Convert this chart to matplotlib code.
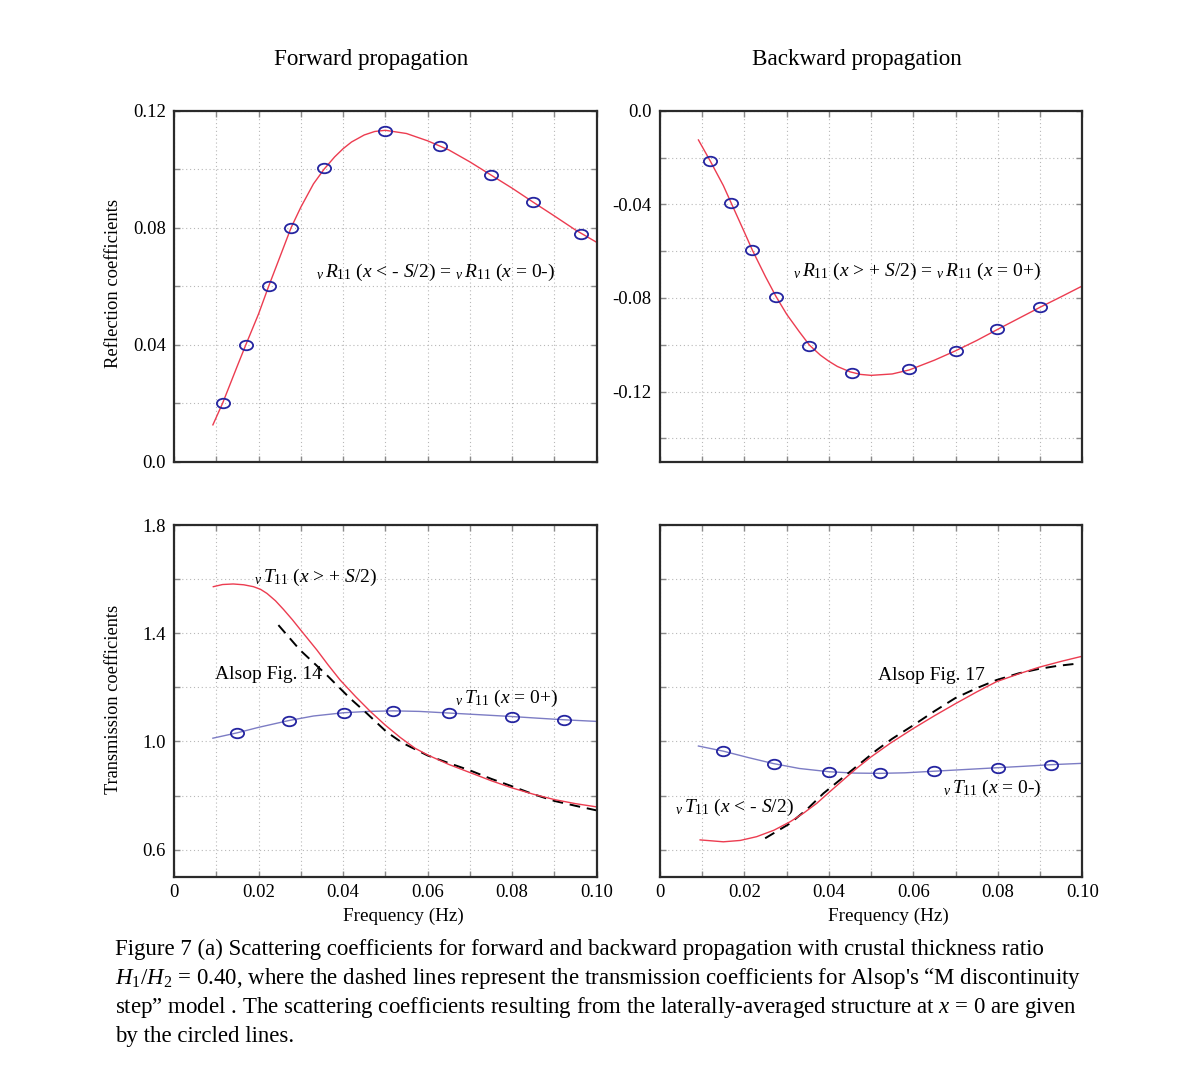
import matplotlib
matplotlib.use('Agg')
import matplotlib.pyplot as plt
from matplotlib.markers import MarkerStyle
from matplotlib.transforms import Affine2D
from matplotlib.ticker import MultipleLocator, FixedLocator, FixedFormatter

plt.rcParams['font.family'] = ['Liberation Serif', 'DejaVu Serif']
plt.rcParams['mathtext.fontset'] = 'custom'
plt.rcParams['mathtext.rm'] = 'Liberation Serif'
plt.rcParams['mathtext.it'] = 'Liberation Serif:italic'
plt.rcParams['mathtext.bf'] = 'Liberation Serif:bold'

# ---- forward, reflection
fwd_R_f = [0.0092, 0.0115, 0.0150, 0.0170, 0.0200, 0.0224, 0.0250, 0.0277, 0.0300, 0.0330,
           0.0355, 0.0380, 0.0400, 0.0420, 0.0450, 0.0475, 0.0500, 0.0550, 0.0600, 0.0650,
           0.0700, 0.0750, 0.0800, 0.0850, 0.0900, 0.0950, 0.1000]
fwd_R = [0.0126, 0.0200, 0.0328, 0.0400, 0.0505, 0.0600, 0.0698, 0.0800, 0.0870, 0.0950,
         0.1000, 0.1042, 0.1070, 0.1093, 0.1117, 0.1129, 0.1133, 0.1122, 0.1097, 0.1066,
         0.1025, 0.0980, 0.0935, 0.0887, 0.0840, 0.0792, 0.0750]
fwd_R_mk_f = [0.0115, 0.0170, 0.0224, 0.0277, 0.0355, 0.0499, 0.0629, 0.0749, 0.0849, 0.0964]
fwd_R_mk = [0.0200, 0.0400, 0.0600, 0.0800, 0.1003, 0.1131, 0.1080, 0.0981, 0.0887, 0.0779]

# ---- backward, reflection
bwd_R_f = [0.0091, 0.0119, 0.0150, 0.0169, 0.0200, 0.0219, 0.0250, 0.0275, 0.0300, 0.0330,
           0.0354, 0.0380, 0.0400, 0.0420, 0.0450, 0.0475, 0.0500, 0.0550, 0.0590, 0.0650,
           0.0700, 0.0750, 0.0800, 0.0850, 0.0900, 0.0950, 0.1000]
bwd_R = [-0.0125, -0.0215, -0.0320, -0.0396, -0.0520, -0.0597, -0.0710, -0.0795, -0.0870, -0.0945,
         -0.1002, -0.1045, -0.1071, -0.1093, -0.1116, -0.1127, -0.1131, -0.1125, -0.1108, -0.1066,
         -0.1026, -0.0982, -0.0934, -0.0887, -0.0840, -0.0795, -0.0749]
bwd_R_mk_f = [0.0119, 0.0169, 0.0219, 0.0275, 0.0354, 0.0455, 0.0590, 0.0700, 0.0799, 0.0900]
bwd_R_mk = [-0.0215, -0.0396, -0.0597, -0.0795, -0.1004, -0.1121, -0.1105, -0.1026, -0.0934, -0.0840]

# ---- forward, transmission
fwd_T_f = [0.0093, 0.0115, 0.0140, 0.0165, 0.0188, 0.0205, 0.0220, 0.0240, 0.0259, 0.0280,
           0.0298, 0.0338, 0.0365, 0.0393, 0.0430, 0.0465, 0.0500, 0.0535, 0.0570, 0.0600,
           0.0650, 0.0700, 0.0750, 0.0800, 0.0850, 0.0900, 0.0950, 0.1000]
fwd_T = [1.572, 1.580, 1.582, 1.579, 1.572, 1.562, 1.547, 1.520, 1.488, 1.450,
         1.415, 1.338, 1.282, 1.227, 1.165, 1.110, 1.060, 1.015, 0.975, 0.950,
         0.915, 0.885, 0.855, 0.828, 0.805, 0.785, 0.770, 0.758]
fwd_A_f = [0.0247, 0.0298, 0.0361, 0.0416, 0.0456, 0.0503, 0.0540, 0.0600, 0.0650, 0.0700,
           0.0750, 0.0800, 0.0850, 0.0900, 0.0950, 0.1000]
fwd_A = [1.430, 1.338, 1.246, 1.160, 1.104, 1.035, 0.995, 0.948, 0.920, 0.893,
         0.862, 0.834, 0.805, 0.780, 0.762, 0.745]
fwd_T0_f = [0.0092, 0.0150, 0.0200, 0.0271, 0.0330, 0.0401, 0.0460, 0.0519, 0.0580, 0.0650,
            0.0720, 0.0800, 0.0860, 0.0923, 0.1000]
fwd_T0 = [1.012, 1.032, 1.052, 1.077, 1.094, 1.106, 1.111, 1.113, 1.111, 1.105,
          1.099, 1.092, 1.086, 1.080, 1.074]
fwd_T0_mk_f = [0.0150, 0.0271, 0.0401, 0.0519, 0.0650, 0.0800, 0.0923]
fwd_T0_mk = [1.032, 1.077, 1.106, 1.113, 1.105, 1.092, 1.080]

# ---- backward, transmission
bwd_T_f = [0.0095, 0.0150, 0.0190, 0.0229, 0.0270, 0.0308, 0.0340, 0.0371, 0.0410, 0.0440,
           0.0466, 0.0500, 0.0545, 0.0600, 0.0650, 0.0699, 0.0750, 0.0797, 0.0850, 0.0897,
           0.0950, 0.1000]
bwd_T = [0.636, 0.629, 0.634, 0.648, 0.672, 0.703, 0.735, 0.771, 0.825, 0.866,
         0.901, 0.943, 0.993, 1.048, 1.095, 1.139, 1.183, 1.221, 1.250, 1.274,
         1.296, 1.315]
bwd_A_f = [0.0249, 0.0308, 0.0350, 0.0387, 0.0420, 0.0450, 0.0513, 0.0550, 0.0600, 0.0650,
           0.0699, 0.0750, 0.0797, 0.0850, 0.0897, 0.0940, 0.0979]
bwd_A = [0.642, 0.697, 0.752, 0.808, 0.850, 0.888, 0.968, 1.010, 1.060, 1.112,
         1.160, 1.197, 1.227, 1.252, 1.268, 1.279, 1.286]
bwd_T0_f = [0.0091, 0.0150, 0.0210, 0.0269, 0.0330, 0.0400, 0.0460, 0.0520, 0.0580, 0.0650,
            0.0720, 0.0801, 0.0860, 0.0925, 0.1000]
bwd_T0 = [0.983, 0.964, 0.940, 0.918, 0.900, 0.888, 0.883, 0.882, 0.884, 0.890,
          0.896, 0.903, 0.908, 0.914, 0.919]
bwd_T0_mk_f = [0.0150, 0.0269, 0.0400, 0.0520, 0.0650, 0.0801, 0.0925]
bwd_T0_mk = [0.964, 0.918, 0.888, 0.882, 0.890, 0.903, 0.914]

x_ticks = [0, 0.02, 0.04, 0.06, 0.08, 0.10]
x_labels = ['0', '0.02', '0.04', '0.06', '0.08', '0.10']

RED = '#ec3c50'
BLUE_LINE = '#7c7cc4'
BLUE_MK = '#2424a0'
ellipse = MarkerStyle('o', transform=Affine2D().scale(1.0, 0.72))

fig = plt.figure(figsize=(12, 10.8), dpi=100)
W, H = 1200.0, 1080.0


def make_ax(px_left, px_top, px_right, px_bottom):
    return fig.add_axes([px_left / W, 1 - px_bottom / H,
                         (px_right - px_left) / W, (px_bottom - px_top) / H])


ax_tl = make_ax(174, 110.7, 596.7, 461.7)
ax_tr = make_ax(660, 110.7, 1082.3, 461.7)
ax_bl = make_ax(174, 525, 596.7, 876.7)
ax_br = make_ax(660, 525, 1082.3, 876.7)

for ax in (ax_tl, ax_tr, ax_bl, ax_br):
    ax.set_xlim(0, 0.1)
    ax.xaxis.set_major_locator(FixedLocator(x_ticks))
    ax.xaxis.set_major_formatter(FixedFormatter(x_labels))
    ax.xaxis.set_minor_locator(MultipleLocator(0.01))
    ax.grid(which='both', ls=(0, (1, 2.5)), color='#b8b8b8', lw=0.8)
    ax.tick_params(which='both', direction='in', top=True, right=True,
                   length=4.5, width=1.0, color='#8a8a8a', labelsize=13.5, pad=6)
    for s in ax.spines.values():
        s.set_linewidth(1.6)
        s.set_color('#2a2a2a')
    ax.set_axisbelow(True)

# top left
ax_tl.set_ylim(0, 0.12)
ax_tl.yaxis.set_major_locator(FixedLocator([0.0, 0.04, 0.08, 0.12]))
ax_tl.yaxis.set_major_formatter(FixedFormatter(['0.0', '0.04', '0.08', '0.12']))
ax_tl.yaxis.set_minor_locator(MultipleLocator(0.02))
ax_tl.plot(fwd_R_f, fwd_R, color=RED, lw=1.0)
ax_tl.plot(fwd_R_mk_f, fwd_R_mk, ls='none', marker=ellipse, ms=9.5,
           mfc='none', mec=BLUE_MK, mew=1.3)
ax_tl.text(0.0335, 0.0632, r'${}_{\nu}\,R_{11}$ ($x$ < - $S$/2) = ${}_{\nu}\,R_{11}$ ($x$ = 0-)',
           fontsize=14, ha='left', va='baseline')

# top right
ax_tr.set_ylim(-0.15, 0)
ax_tr.yaxis.set_major_locator(FixedLocator([0.0, -0.04, -0.08, -0.12]))
ax_tr.yaxis.set_major_formatter(FixedFormatter(['0.0', '-0.04', '-0.08', '-0.12']))
ax_tr.yaxis.set_minor_locator(FixedLocator([-0.02, -0.06, -0.10, -0.14]))
ax_tr.plot(bwd_R_f, bwd_R, color=RED, lw=1.0)
ax_tr.plot(bwd_R_mk_f, bwd_R_mk, ls='none', marker=ellipse, ms=9.5,
           mfc='none', mec=BLUE_MK, mew=1.3)
ax_tr.text(0.0315, -0.0706, r'${}_{\nu}\,R_{11}$ ($x$ > + $S$/2) = ${}_{\nu}\,R_{11}$ ($x$ = 0+)',
           fontsize=14, ha='left', va='baseline')

for ax in (ax_tl, ax_tr):
    ax.tick_params(axis='x', labelbottom=False)

# bottom rows
for ax in (ax_bl, ax_br):
    ax.set_ylim(0.5, 1.8)
    ax.yaxis.set_major_locator(FixedLocator([0.6, 1.0, 1.4, 1.8]))
    ax.yaxis.set_major_formatter(FixedFormatter(['0.6', '1.0', '1.4', '1.8']))
    ax.yaxis.set_minor_locator(FixedLocator([0.8, 1.2, 1.6]))
    ax.tick_params(axis='x', pad=5)
ax_br.tick_params(axis='y', labelleft=False)

ax_bl.plot(fwd_T0_f, fwd_T0, color=BLUE_LINE, lw=1.0)
ax_bl.plot(fwd_T0_mk_f, fwd_T0_mk, ls='none', marker=ellipse, ms=9.5,
           mfc='none', mec=BLUE_MK, mew=1.3)
ax_bl.plot(fwd_A_f, fwd_A, color='black', lw=1.4, dashes=(5.5, 3.5))
ax_bl.plot(fwd_T_f, fwd_T, color=RED, lw=1.0)
ax_bl.text(0.0189, 1.590, r'${}_{\nu}\,T_{11}$ ($x$ > + $S$/2)', fontsize=14, ha='left', va='baseline')
ax_bl.text(0.0097, 1.229, 'Alsop Fig. 14', fontsize=14, ha='left', va='baseline')
ax_bl.text(0.0665, 1.143, r'${}_{\nu}\,T_{11}$ ($x$ = 0+)', fontsize=14, ha='left', va='baseline')

ax_br.plot(bwd_T0_f, bwd_T0, color=BLUE_LINE, lw=1.0)
ax_br.plot(bwd_T0_mk_f, bwd_T0_mk, ls='none', marker=ellipse, ms=9.5,
           mfc='none', mec=BLUE_MK, mew=1.3)
ax_br.plot(bwd_A_f, bwd_A, color='black', lw=1.4, dashes=(5.5, 3.5))
ax_br.plot(bwd_T_f, bwd_T, color=RED, lw=1.0)
ax_br.text(0.0516, 1.227, 'Alsop Fig. 17', fontsize=14, ha='left', va='baseline')
ax_br.text(0.0670, 0.811, r'${}_{\nu}\,T_{11}$ ($x$ = 0-)', fontsize=14, ha='left', va='baseline')
ax_br.text(0.0036, 0.740, r'${}_{\nu}\,T_{11}$ ($x$ < - $S$/2)', fontsize=14, ha='left', va='baseline')

# titles and labels
fig.text(371 / W, 1 - 60 / H, 'Forward propagation', fontsize=16.7, ha='center', va='center')
fig.text(857 / W, 1 - 60 / H, 'Backward propagation', fontsize=16.7, ha='center', va='center')
fig.text(113 / W, 1 - 284 / H, 'Reflection coefficients', fontsize=13.4, rotation=90,
         ha='center', va='center')
fig.text(113 / W, 1 - 699 / H, 'Transmission coefficients', fontsize=13.2, rotation=90,
         ha='center', va='center')
fig.text(403 / W, 1 - 916 / H, 'Frequency (Hz)', fontsize=13.8, ha='center', va='center')
fig.text(888 / W, 1 - 916 / H, 'Frequency (Hz)', fontsize=13.8, ha='center', va='center')

caption = [
    'Figure 7 (a) Scattering coefficients for forward and backward propagation with crustal thickness ratio',
    '$H_1/H_2$ = 0.40, where the dashed lines represent the transmission coefficients for Alsop\'s \u201cM discontinuity',
    'step\u201d model . The scattering coefficients resulting from the laterally-averaged structure at $x$ = 0 are given',
    'by the circled lines.',
]
for i, line in enumerate(caption):
    fig.text(115 / W, 1 - (955 + 29 * i) / H, line, fontsize=16.5, ha='left', va='baseline')

fig.savefig('out.png', dpi=100, facecolor='white')
